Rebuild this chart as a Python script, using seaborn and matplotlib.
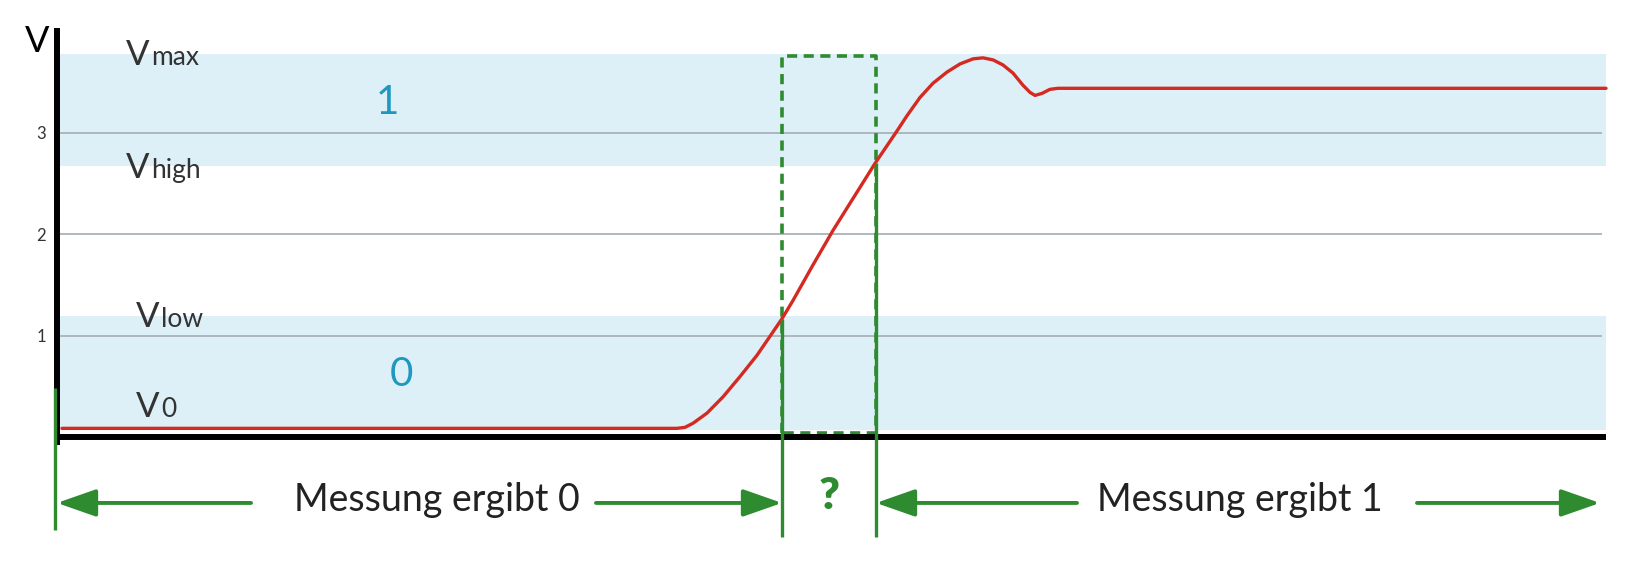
import numpy as np
import pandas as pd
import matplotlib
matplotlib.use("Agg")
import matplotlib.pyplot as plt
import seaborn as sns

# signal trace (time in arbitrary units, volts)
t_signal = [0.05, 6.20, 6.28, 6.36, 6.50, 6.66, 6.83, 7.00, 7.16, 7.25, 7.36, 7.56,
            7.76, 7.97, 8.18, 8.40, 8.50, 8.63, 8.76, 8.90, 9.03, 9.16, 9.26, 9.36,
            9.46, 9.56, 9.66, 9.73, 9.78, 9.85, 9.93, 10.01, 15.49]
v_signal = [0.09, 0.09, 0.10, 0.14, 0.24, 0.40, 0.60, 0.81, 1.04, 1.17, 1.35, 1.70,
            2.04, 2.37, 2.70, 3.02, 3.17, 3.35, 3.49, 3.60, 3.68, 3.73, 3.74, 3.72,
            3.67, 3.59, 3.47, 3.40, 3.37, 3.39, 3.43, 3.44, 3.44]

band_low = [0.07, 1.20]      # logic 0 region (V0 .. Vlow)
band_high = [2.67, 3.78]     # logic 1 region (Vhigh .. Vmax)
grid_levels = [1, 2, 3]
tick_labels = ["1", "2", "3"]
level_names = ["max", "high", "low", "0"]
level_values = [3.67, 2.56, 1.09, 0.20]
t_window = [7.25, 8.19]      # uncertain window between Vlow and Vhigh crossings
t_end = 15.49
texts_bottom = ["Messung ergibt 0", "?", "Messung ergibt 1"]

red = "#d42a22"
green = "#2e8b30"
blue_band = "#ddf0f7"
teal = "#1f98c0"
txt = "#333333"
font = ["Lato", "DejaVu Sans"]

sns.set_theme(style="white")
plt.rcParams["font.family"] = font

fig = plt.figure(figsize=(16.4, 5.67), dpi=100)
ax = fig.add_axes([0, 0, 1, 1])
ax.set_xlim(-0.57, 15.83)
ax.set_ylim(-1.276, 4.310)

# shaded logic bands
for lo, hi in [band_low, band_high]:
    ax.fill_between([0, t_end], lo, hi, color=blue_band, lw=0, zorder=0)

ax.hlines(grid_levels, 0, 15.45, color="#a9b3b8", lw=1.3, zorder=1)

df = pd.DataFrame({"t": t_signal, "v": v_signal})
sns.lineplot(data=df, x="t", y="v", color=red, lw=2.4, estimator=None,
             sort=False, ax=ax, zorder=4)

# axes
for s in ["top", "right"]:
    ax.spines[s].set_visible(False)
ax.spines["left"].set_position(("data", 0))
ax.spines["bottom"].set_position(("data", 0))
ax.spines["left"].set_bounds(-0.04, 4.0)
ax.spines["bottom"].set_bounds(0, 15.46)
for s in ["left", "bottom"]:
    ax.spines[s].set_linewidth(4.3)
    ax.spines[s].set_color("black")
    ax.spines[s].set_zorder(5)
ax.set_yticks(grid_levels)
ax.set_yticklabels(tick_labels)
ax.set_xticks([])
ax.tick_params(axis="y", length=0, pad=8, labelsize=12, labelcolor=txt)
ax.set_xlabel("")
ax.set_ylabel("")
ax.text(-0.2, 3.9, "V", fontsize=26, color="black", ha="center", va="center")

# V labels with inline small suffix
fig.canvas.draw()
for name, val in zip(level_names, level_values):
    x0 = 0.69 if name in ("max", "high") else 0.79
    big = ax.text(x0, val, "V", fontsize=25, color=txt, va="baseline")
    fig.canvas.draw()
    w = big.get_window_extent().width * 72 / fig.dpi
    ax.annotate(name, xy=(x0, val), xytext=(w + 1, 0), textcoords="offset points",
                fontsize=19, color=txt, va="baseline")

ax.text(3.30, 3.30, "1", fontsize=29, color=teal, ha="center", va="center")
ax.text(3.44, 0.62, "0", fontsize=29, color=teal, ha="center", va="center")

# green markers
ax.vlines(-0.02, -0.91, 0.49, color=green, lw=2.4, zorder=6)
ax.vlines(t_window[0], -0.98, 1.17, color=green, lw=2.4, zorder=6)
ax.vlines(t_window[1], -0.98, 2.70, color=green, lw=2.4, zorder=6)
ax.plot([t_window[0], t_window[0], t_window[1], t_window[1], t_window[0]],
        [0.04, 3.76, 3.76, 0.04, 0.04], color=green, lw=2.6,
        linestyle=(0, (2.8, 1.8)), zorder=3)

y_arr = -0.645
astyle = dict(arrowstyle="-|>,head_length=1.2,head_width=0.42", color=green,
              lw=2.8, shrinkA=0, shrinkB=0, mutation_scale=20)
for tail, tip in [(1.94, 0.0), (5.39, 7.25), (10.20, 8.19), (13.60, 15.43)]:
    ax.annotate("", xy=(tip, y_arr), xytext=(tail, y_arr), arrowprops=astyle)

ax.text(3.80, -0.62, texts_bottom[0], fontsize=27, color="#222222",
        ha="center", va="center")
ax.text(7.72, -0.58, texts_bottom[1], fontsize=32, color=green,
        ha="center", va="center", fontweight="heavy")
ax.text(11.83, -0.62, texts_bottom[2], fontsize=27, color="#222222",
        ha="center", va="center")

fig.savefig("out.png", dpi=100, facecolor="white")
